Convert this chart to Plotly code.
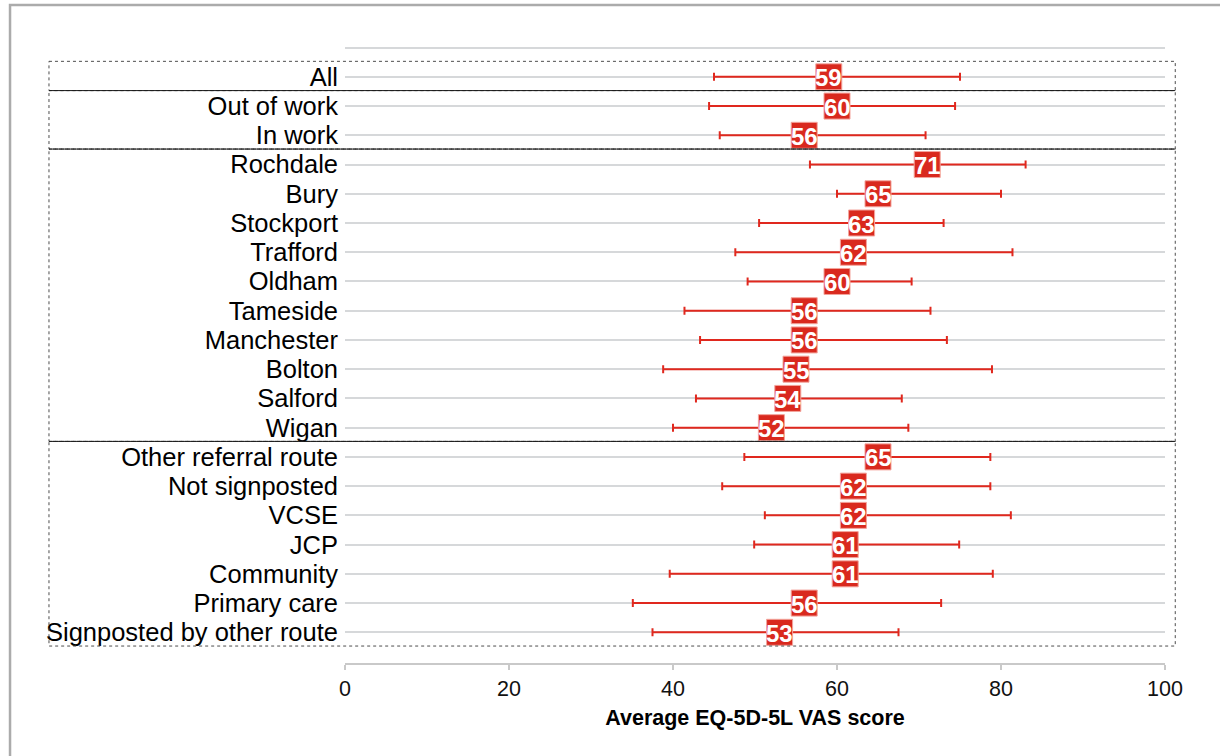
import plotly.graph_objects as go

# Average EQ-5D-5L VAS score by group, with lower / upper interval bounds
categories = [
    "All",
    "Out of work", "In work",
    "Rochdale", "Bury", "Stockport", "Trafford", "Oldham", "Tameside",
    "Manchester", "Bolton", "Salford", "Wigan",
    "Other referral route", "Not signposted", "VCSE", "JCP", "Community",
    "Primary care", "Signposted by other route",
]
mean_score = [59, 60, 56, 71, 65, 63, 62, 60, 56, 56, 55, 54, 52,
              65, 62, 62, 61, 61, 56, 53]
lower = [45.0, 44.4, 45.7, 56.7, 60.0, 50.5, 47.6, 49.1, 41.4, 43.3, 38.8,
         42.8, 40.0, 48.7, 46.0, 51.2, 49.9, 39.6, 35.1, 37.5]
upper = [75.0, 74.4, 70.8, 83.0, 80.0, 73.0, 81.4, 69.1, 71.4, 73.4, 78.9,
         67.9, 68.7, 78.7, 78.7, 81.2, 74.9, 79.0, 72.7, 67.5]
group_sizes = [1, 2, 10, 7]   # All / work status / district / referral route
x_ticks = [0, 20, 40, 60, 80, 100]

RED = "#D9291E"
pos = list(range(len(categories)))

fig = go.Figure()
fig.add_trace(go.Scatter(
    x=mean_score,
    y=pos,
    mode="markers",
    marker=dict(symbol="square", size=26, color=RED,
                line=dict(color="#F3A49C", width=1)),
    error_x=dict(
        type="data", symmetric=False,
        array=[u - m for u, m in zip(upper, mean_score)],
        arrayminus=[m - l for m, l in zip(mean_score, lower)],
        color="#E0281E", thickness=2, width=4,
    ),
    showlegend=False,
    hoverinfo="skip",
))

# value labels centred on each square
annotations = [
    dict(x=m, y=p, xref="x", yref="y", text=str(m), showarrow=False,
         xanchor="center", yanchor="middle", yshift=-1,
         font=dict(family="Liberation Sans Narrow, Arial Narrow, Liberation Sans",
                   size=24, color="white", weight="bold"))
    for m, p in zip(mean_score, pos)
]

# dotted outlines around each group of rows, solid rules between groups
shapes = []
start = 0
bounds = []
for n in group_sizes:
    top = start - 0.53
    bottom = start + n - 0.53
    bounds.append((top, bottom))
    shapes.append(dict(type="rect", xref="paper", yref="y",
                       x0=-0.361, x1=1.0125, y0=top, y1=bottom,
                       line=dict(color="#4D4D4D", width=1, dash="dot"),
                       layer="above"))
    start += n
for top, bottom in bounds[1:]:
    shapes.append(dict(type="line", xref="paper", yref="y",
                       x0=-0.361, x1=1.0125, y0=top, y1=top,
                       line=dict(color="#1A1A1A", width=1),
                       layer="above"))

# outer frame
shapes.append(dict(type="rect", xref="paper", yref="paper",
                   x0=-0.4085, x1=1.2, y0=1.0562, y1=-0.3,
                   line=dict(color="#ABABAB", width=2.5), layer="above"))

fig.update_layout(
    width=1220, height=756,
    margin=dict(l=345, r=55, t=40, b=93),
    paper_bgcolor="white",
    plot_bgcolor="white",
    shapes=shapes,
    annotations=annotations,
    font=dict(family="Liberation Sans, Arial, sans-serif", color="#000000"),
    xaxis=dict(
        range=[0, 100],
        tickvals=x_ticks,
        ticktext=[str(t) for t in x_ticks],
        showgrid=False, zeroline=False,
        showline=True, linecolor="#C9C9C9", linewidth=1.5,
        ticks="outside", ticklen=5, tickwidth=1.5, tickcolor="#C9C9C9",
        tickfont=dict(size=21.5, color="#111111"),
        title=dict(text="Average EQ-5D-5L VAS score",
                   font=dict(size=21.5, color="#000000", weight="bold"),
                   standoff=10),
    ),
    yaxis=dict(
        range=[20.05, -1.26],
        tickvals=[-1] + pos,
        ticktext=[""] + categories,
        showgrid=True, gridcolor="#D6D8DA", gridwidth=1.5,
        zeroline=False, showline=False, ticks="",
        ticklabelstandoff=6,
        tickfont=dict(size=25.5, color="#000000"),
    ),
)

fig.write_html("out.html")
